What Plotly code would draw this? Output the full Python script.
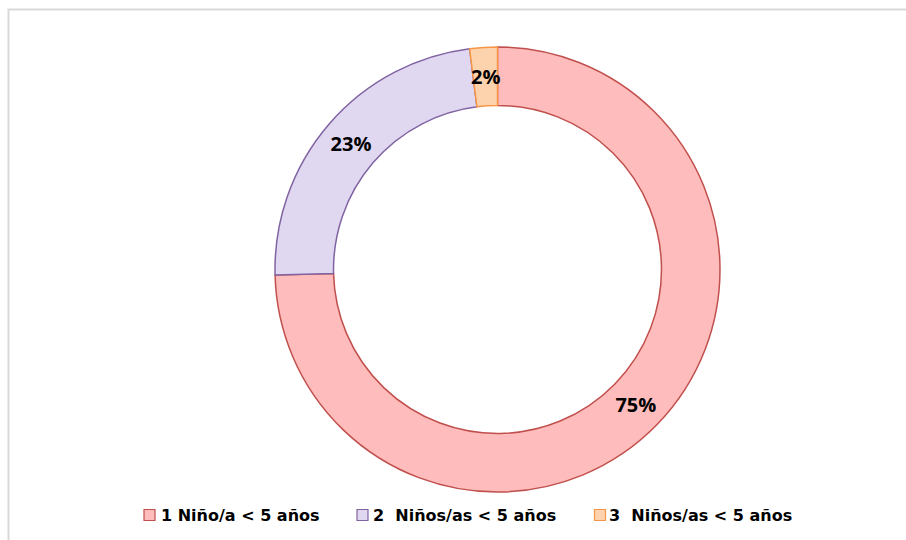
import math
import plotly.graph_objects as go

labels = ["1 Niño/a < 5 años", "2\u00a0 Niños/as < 5 años", "3\u00a0 Niños/as < 5 años"]
values = [74.6, 23.4, 2.0]
fill_colors = ["#ffbcbc", "#e0d7f1", "#fdd3ad"]
line_colors = ["#c0504d", "#8064a2", "#f79646"]
legend_square_x = [144, 357, 594.5]
legend_text_x = [160, 372, 608]

W, H = 906, 540
# plot area geometry (pixels)
L, R, T, B = 275, 906 - 720, 47, 540 - 492
pw, ph = W - L - R, H - T - B
HOLE = 0.737

def px_x(x):
    return (x - L) / pw

def px_y(y):
    return (H - B - y) / ph

total = sum(values)
fig = go.Figure()
fig.add_trace(go.Pie(
    labels=labels,
    values=values,
    hole=HOLE,
    sort=False,
    direction="clockwise",
    rotation=0,
    marker=dict(colors=fill_colors, line=dict(color=line_colors, width=1.5)),
    texttemplate="%{percent:.0%}",
    textposition=["inside", "inside", "none"],
    insidetextorientation="horizontal",
    textfont=dict(family="Open Sans", size=20, color="#000000", weight="bold"),
    hoverinfo="label+percent",
    showlegend=False,
))

# label for the thin slice, placed at its mid-angle on the ring's mid radius
cx, cy = L + pw / 2, T + ph / 2
rmid = (min(pw, ph) / 2) * (1 + HOLE) / 2
cum = 0
for i, v in enumerate(values):
    if i == 2:
        ang = math.radians((cum + v / 2) / total * 360)
        x = cx + rmid * math.sin(ang)
        y = cy - rmid * math.cos(ang)
        fig.add_annotation(xref="paper", yref="paper", x=px_x(x), y=px_y(y),
                           xanchor="center", yanchor="middle", showarrow=False,
                           text=f"{round(v / total * 100)}%", borderpad=0,
                           font=dict(family="Open Sans", size=20, color="#000000", weight="bold"))
    cum += v

fig.add_shape(type="rect", xref="paper", yref="paper",
              x0=px_x(8.5), x1=px_x(915), y0=px_y(9.5), y1=px_y(548),
              line=dict(color="#d9d9d9", width=2), fillcolor="rgba(0,0,0,0)", layer="below")

# legend drawn manually
for lab, fc, lc, sx, tx in zip(labels, fill_colors, line_colors, legend_square_x, legend_text_x):
    fig.add_shape(type="rect", xref="paper", yref="paper",
                  x0=px_x(sx), x1=px_x(sx + 11), y0=px_y(520.5), y1=px_y(509.5),
                  line=dict(color=lc, width=1.2), fillcolor=fc)
    fig.add_annotation(xref="paper", yref="paper", x=px_x(tx), y=px_y(515),
                       xanchor="left", yanchor="middle", showarrow=False,
                       text=lab, borderpad=0,
                       font=dict(family="DejaVu Sans", size=16, color="#000000", weight="bold"))

fig.update_layout(
    width=W, height=H,
    margin=dict(l=L, r=R, t=T, b=B),
    paper_bgcolor="#ffffff",
    plot_bgcolor="#ffffff",
)

fig.write_html("out.html")
